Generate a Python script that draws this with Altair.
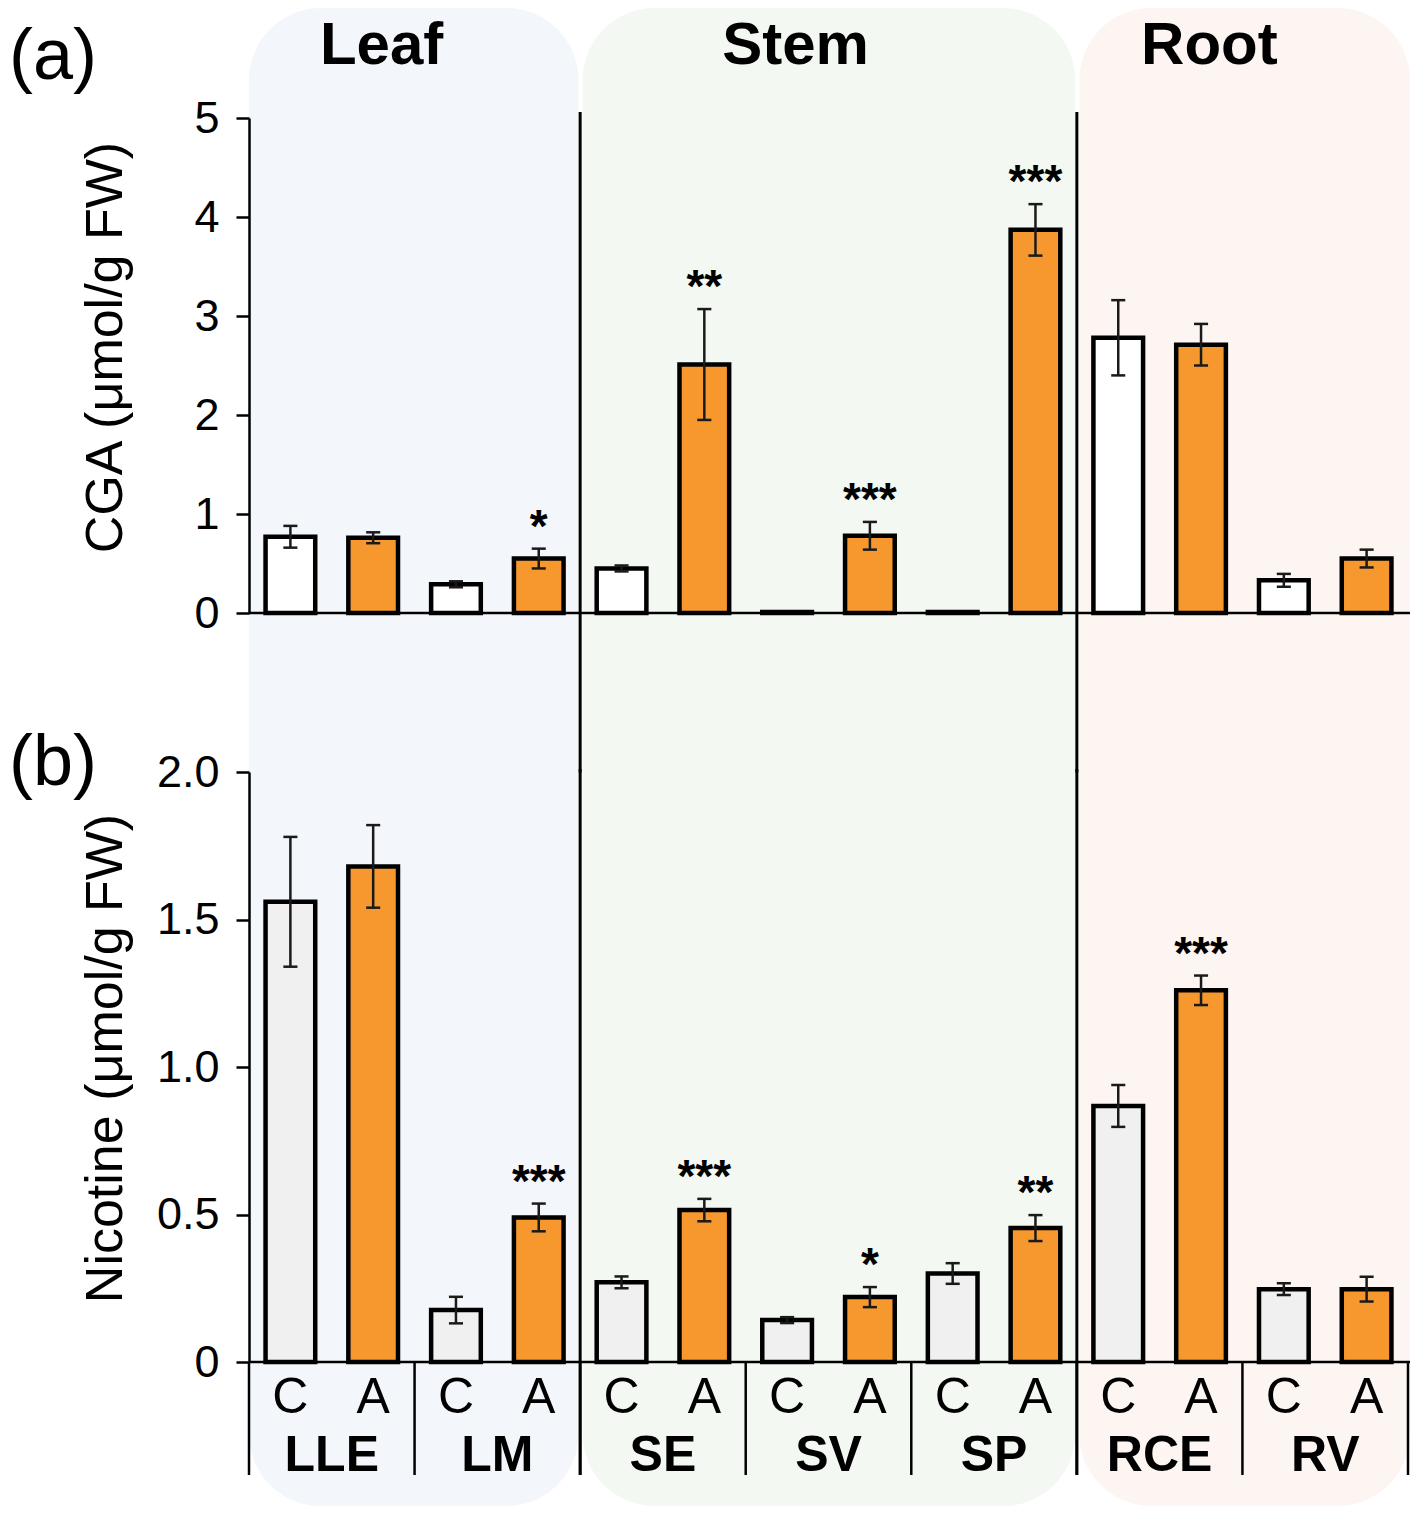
import altair as alt
import pandas as pd

# ---------------- data ----------------
tissues = ["LLE", "LM", "SE", "SV", "SP", "RCE", "RV"]
treatments = ["C", "A"]
organs = ["Leaf", "Stem", "Root"]
organ_tissue_counts = [2, 3, 2]

cga_mean = [0.77, 0.76, 0.29, 0.55, 0.45, 2.51, 0.01, 0.78, 0.01, 3.87, 2.78, 2.71, 0.33, 0.55]
cga_err = [0.11, 0.055, 0.03, 0.10, 0.03, 0.56, 0.0, 0.14, 0.0, 0.26, 0.38, 0.21, 0.065, 0.09]
cga_sig = ["", "", "", "*", "", "**", "", "***", "", "***", "", "", "", ""]

nic_mean = [1.56, 1.68, 0.176, 0.49, 0.27, 0.515, 0.142, 0.22, 0.30, 0.454, 0.868, 1.26, 0.247, 0.247]
nic_err = [0.22, 0.14, 0.045, 0.047, 0.02, 0.038, 0.01, 0.034, 0.035, 0.044, 0.071, 0.05, 0.02, 0.042]
nic_sig = ["", "", "", "***", "", "***", "", "*", "", "**", "", "***", "", ""]

ORANGE = "#f7982f"
FONT = "Liberation Sans"
BG_COLORS = ["#f3f6fb", "#f3f8f2", "#fdf5f2"]

W, H = 1159, 1498
xs = alt.Scale(domain=[0, 14], nice=False, zero=False)
ya = alt.Scale(domain=[0, 5], range=[605, 110], nice=False, zero=False)
yb = alt.Scale(domain=[0, 2], range=[1354, 764], nice=False, zero=False)

bar_tissue = [t for t in tissues for _ in treatments]
bar_trt = [tr for _ in tissues for tr in treatments]
idx = list(range(len(bar_tissue)))


def panel_df(mean, err, sig):
    df = pd.DataFrame({"i": idx, "tissue": bar_tissue, "trt": bar_trt,
                       "val": mean, "err": err, "sig": sig})
    df["x0"] = df.i + 0.2
    df["x1"] = df.i + 0.8
    df["xc"] = df.i + 0.5
    df["c0"] = df.xc - 0.085
    df["c1"] = df.xc + 0.085
    df["lo"] = df.val - df.err
    df["hi"] = df.val + df.err
    return df


def axis_def(values, title, title_y, label_expr=None):
    kw = dict(values=values, title=title, orient="left", grid=False,
              domainColor="black", domainWidth=2.5, tickColor="black", tickWidth=2.5,
              tickSize=13, labelFontSize=45, labelFont=FONT, labelPadding=17,
              labelColor="black", titleFontSize=52, titleFont=FONT,
              titleFontWeight="normal", titleColor="black", titleX=-128,
              titleY=title_y, titleBaseline="alphabetic", labelOverlap=False,
              zindex=2)
    if label_expr:
        kw["labelExpr"] = label_expr
    return alt.Axis(**kw)


# group boundaries (in bar units)
bounds = [0]
for c in organ_tissue_counts:
    bounds.append(bounds[-1] + 2 * c)

XEND = 14.024


def panel(df, yscale, axis, c_color, div_top, div_bottom):
    def X(f):
        return alt.X(f, type="quantitative", scale=xs, axis=None)

    def Y(f):
        return alt.Y(f, type="quantitative", scale=yscale, axis=None)

    bars = alt.Chart(df).mark_bar(stroke="black", strokeWidth=4.5).encode(
        x=X("x0"), x2="x1:Q",
        y=alt.Y("val:Q", scale=yscale, axis=axis), y2=alt.datum(0),
        fill=alt.condition(alt.datum.trt == "A", alt.value(ORANGE), alt.value(c_color)),
    )
    edf = df[df.err > 0]
    err = alt.Chart(edf).mark_rule(color="#1a1a1a", strokeWidth=2.5).encode(
        x=X("xc"), y=Y("lo"), y2="hi:Q")
    cap_hi = alt.Chart(edf).mark_rule(color="#1a1a1a", strokeWidth=2.5).encode(
        x=X("c0"), x2="c1:Q", y=Y("hi"))
    cap_lo = alt.Chart(edf).mark_rule(color="#1a1a1a", strokeWidth=2.5).encode(
        x=X("c0"), x2="c1:Q", y=Y("lo"))
    stars = alt.Chart(df[df.sig != ""]).mark_text(
        font=FONT, fontSize=46, fontWeight="bold", baseline="alphabetic", dy=-7,
        color="black").encode(x=X("xc"), y=Y("hi"), text="sig:N")
    base_df = pd.DataFrame({"x0": [0.0], "x1": [XEND], "y": [0.0]})
    baseline = alt.Chart(base_df).mark_rule(color="black", strokeWidth=2.5).encode(
        x=X("x0"), x2="x1:Q", y=Y("y"))
    div_df = pd.DataFrame({"x": [bounds[1], bounds[2]], "y0": [div_top] * 2,
                           "y1": [div_bottom] * 2})
    dividers = alt.Chart(div_df).mark_rule(color="black", strokeWidth=3).encode(
        x=X("x"), y=Y("y0"), y2="y1:Q")
    return [dividers, bars, err, cap_hi, cap_lo, stars, baseline]


dfa = panel_df(cga_mean, cga_err, cga_sig)
dfb = panel_df(nic_mean, nic_err, nic_sig)

ax_a = axis_def([0, 1, 2, 3, 4, 5], "CGA (μmol/g FW)", 339)
ax_b = axis_def([0, 0.5, 1, 1.5, 2], "Nicotine (μmol/g FW)", 1050,
                "datum.value == 0 ? '0' : format(datum.value, '.1f')")

layers_a = panel(dfa, ya, ax_a, "#ffffff", 5.06, -1.61)
layers_b = panel(dfb, yb, ax_b, "#f0f0f0", 2.01, -0.383)

# organ titles and panel letters
org_df = pd.DataFrame({"organ": organs,
                       "xc": [(bounds[k] + bounds[k + 1]) / 2 for k in range(3)]})
org_titles = alt.Chart(org_df).mark_text(
    font=FONT, fontSize=60, fontWeight="bold", baseline="alphabetic", dx=-33,
    color="black").encode(
    x=alt.X("xc:Q", scale=xs, axis=None),
    y=alt.Y(datum=5.545, scale=ya, axis=None), text="organ:N")
label_a = alt.Chart(pd.DataFrame({"t": ["(a)"]})).mark_text(
    font=FONT, fontSize=72, align="left", baseline="middle", color="black").encode(
    x=alt.X(datum=-2.9, scale=xs, axis=None),
    y=alt.Y(datum=5.62, scale=ya, axis=None), text="t:N")
label_b = alt.Chart(pd.DataFrame({"t": ["(b)"]})).mark_text(
    font=FONT, fontSize=72, align="left", baseline="middle", color="black").encode(
    x=alt.X(datum=-2.9, scale=xs, axis=None),
    y=alt.Y(datum=2.03, scale=yb, axis=None), text="t:N")

# category axis of panel b
cat_df = pd.DataFrame({"trt": bar_trt, "xc": [i + 0.5 for i in idx]})
cat_text = alt.Chart(cat_df).mark_text(
    font=FONT, fontSize=50, baseline="middle", color="black").encode(
    x=alt.X("xc:Q", scale=xs, axis=None),
    y=alt.Y(datum=-0.122, scale=yb, axis=None), text="trt:N")
tis_df = pd.DataFrame({"tissue": tissues, "xc": [2 * k + 1 for k in range(len(tissues))]})
tis_text = alt.Chart(tis_df).mark_text(
    font=FONT, fontSize=50, fontWeight="bold", baseline="middle", color="black").encode(
    x=alt.X("xc:Q", scale=xs, axis=None),
    y=alt.Y(datum=-0.317, scale=yb, axis=None), text="tissue:N")
sep_df = pd.DataFrame({"x": [2 * k for k in range(len(tissues) + 1)],
                       "y0": [0.0] * (len(tissues) + 1), "y1": [-0.383] * (len(tissues) + 1)})
seps = alt.Chart(sep_df).mark_rule(color="black", strokeWidth=2.5).encode(
    x=alt.X("x:Q", scale=xs, axis=None),
    y=alt.Y("y0:Q", scale=yb, axis=None), y2="y1:Q")

# background rounded panels
bg_df = pd.DataFrame({
    "organ": organs,
    "s": [bounds[k] + (0.03 if k > 0 else 0.0) for k in range(3)],
    "e": [bounds[k + 1] - 0.02 if k < 2 else XEND for k in range(3)],
})
bg = alt.Chart(bg_df).mark_rect(cornerRadius=72).encode(
    x=alt.X("s:Q", scale=xs, axis=None), x2="e:Q",
    y=alt.value(0), y2=alt.value("height"),
    fill=alt.Fill("organ:N", scale=alt.Scale(domain=organs, range=BG_COLORS), legend=None),
)

all_layers = [bg] + layers_a + [org_titles, label_a] + layers_b + [seps, cat_text, tis_text, label_b]

chart = alt.layer(*all_layers).resolve_scale(y="independent").properties(
    width=W, height=H,
    autosize=alt.AutoSizeParams(type="none"),
    padding={"left": 241, "top": 0, "right": 2, "bottom": 0},
    background="white",
).configure_view(stroke=None)

chart.save("out.html", embed_options={"renderer": "svg", "actions": False})
